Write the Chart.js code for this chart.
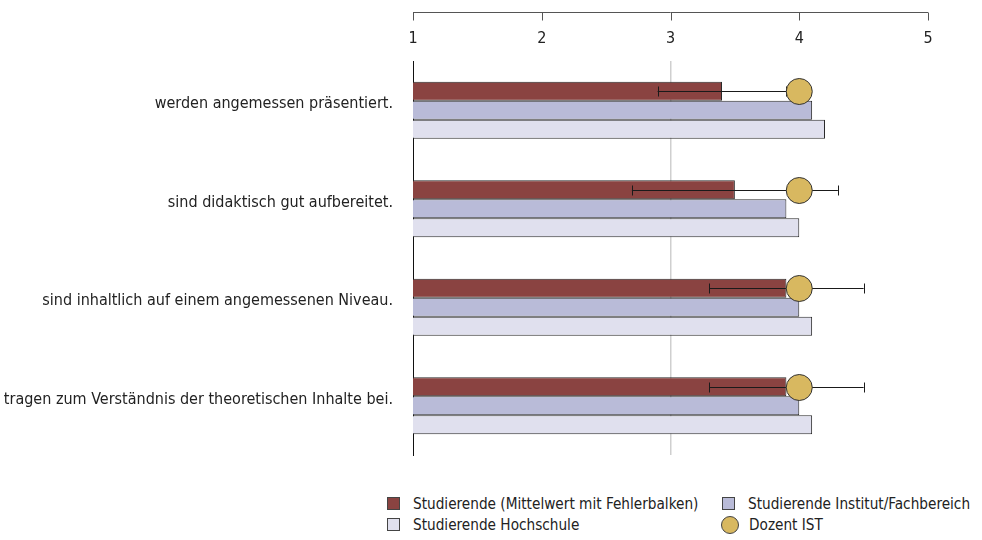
<!DOCTYPE html>
<html>
<head>
<meta charset="utf-8">
<script src="https://cdn.jsdelivr.net/npm/chart.js@4"></script>
<style>
  body { margin: 0; background: #fff; }
  #wrap { position: relative; width: 982px; height: 540px; }
  #chart { position: absolute; left: 0; top: 0; }
  .lg { position: absolute; font: 15.2px 'Liberation Sans Narrow', 'DejaVu Sans Condensed', sans-serif; color: #222; white-space: nowrap; line-height: 18px; }
  .sw { display: inline-block; width: 11px; height: 11px; border: 1px solid #444; vertical-align: -1px; margin-right: 13px; }
  .dot { display: inline-block; width: 16px; height: 16px; border: 1px solid #444; border-radius: 50%; vertical-align: -4px; margin-right: 10px; }
</style>
</head>
<body>
<div id="wrap">
  <canvas id="chart" width="982" height="470"></canvas>
  <div id="legend"></div>
</div>
<script>
// chart data
const categories = [
  'werden angemessen präsentiert.',
  'sind didaktisch gut aufbereitet.',
  'sind inhaltlich auf einem angemessenen Niveau.',
  'tragen zum Verständnis der theoretischen Inhalte bei.'
];
const seriesNames = [
  'Studierende (Mittelwert mit Fehlerbalken)',
  'Studierende Institut/Fachbereich',
  'Studierende Hochschule',
  'Dozent IST'
];
const studMean = [3.4, 3.5, 3.9, 3.9];
const studErr = [0.5, 0.8, 0.6, 0.6];
const institut = [4.1, 3.9, 4.0, 4.0];
const hochschule = [4.2, 4.0, 4.1, 4.1];
const dozent = [4.0, 4.0, 4.0, 4.0];
const xTicks = [1, 2, 3, 4, 5];
const colors = ['#8a4341', '#b9bbd8', '#e0e0ee', '#d8b860'];

const FONT = "'Liberation Sans Narrow', 'DejaVu Sans Condensed', sans-serif";

// axis line with ticks above the labels
const topAxis = {
  id: 'topAxis',
  afterDraw(chart) {
    const xs = chart.scales.x;
    const ctx = chart.ctx;
    const y = 12.5;
    ctx.save();
    ctx.strokeStyle = '#555';
    ctx.lineWidth = 1;
    ctx.beginPath();
    ctx.moveTo(xs.getPixelForValue(xTicks[0]), y);
    ctx.lineTo(xs.getPixelForValue(xTicks[xTicks.length - 1]), y);
    xTicks.forEach(v => {
      const px = Math.round(xs.getPixelForValue(v)) + 0.5;
      ctx.moveTo(px, y);
      ctx.lineTo(px, y + 8);
    });
    ctx.stroke();
    ctx.restore();
  }
};

// error bars + lecturer dot, placed on the first bar of each group
const errorDots = {
  id: 'errorDots',
  afterDatasetsDraw(chart) {
    const xs = chart.scales.x;
    const meta = chart.getDatasetMeta(0);
    const ctx = chart.ctx;
    ctx.save();
    meta.data.forEach((bar, i) => {
      const y = Math.round(bar.y) + 0.5;
      const lo = xs.getPixelForValue(studMean[i] - studErr[i]);
      const hi = xs.getPixelForValue(studMean[i] + studErr[i]);
      ctx.strokeStyle = '#1a1a1a';
      ctx.lineWidth = 1;
      ctx.beginPath();
      ctx.moveTo(lo, y); ctx.lineTo(hi, y);
      ctx.moveTo(Math.round(lo) + 0.5, y - 5); ctx.lineTo(Math.round(lo) + 0.5, y + 5);
      ctx.moveTo(Math.round(hi) + 0.5, y - 5); ctx.lineTo(Math.round(hi) + 0.5, y + 5);
      ctx.stroke();

      const dx = xs.getPixelForValue(dozent[i]);
      ctx.beginPath();
      ctx.arc(dx, y, 13, 0, Math.PI * 2);
      ctx.fillStyle = colors[3];
      ctx.fill();
      ctx.strokeStyle = '#333';
      ctx.stroke();
    });
    ctx.restore();
  }
};

const barStyle = { borderColor: '#2a2a2a', borderWidth: 1, categoryPercentage: 0.58, barPercentage: 1 };

new Chart(document.getElementById('chart'), {
  type: 'bar',
  data: {
    labels: categories,
    datasets: [
      Object.assign({ label: seriesNames[0], data: studMean, backgroundColor: colors[0] }, barStyle),
      Object.assign({ label: seriesNames[1], data: institut, backgroundColor: colors[1] }, barStyle),
      Object.assign({ label: seriesNames[2], data: hochschule, backgroundColor: colors[2] }, barStyle)
    ]
  },
  options: {
    indexAxis: 'y',
    responsive: false,
    animation: false,
    layout: { padding: { top: 0, right: 54, bottom: 15, left: 0 } },
    plugins: { legend: { display: false }, tooltip: { enabled: false } },
    scales: {
      x: {
        position: 'top',
        min: 1,
        max: 5,
        afterFit: s => { s.height = 61; },
        afterBuildTicks: s => { s.ticks = xTicks.map(v => ({ value: v })); },
        ticks: { padding: 13, color: '#222', font: { family: FONT, size: 16 } },
        grid: {
          drawTicks: false,
          lineWidth: 1.5,
          color: c => (c.tick && c.tick.value === 3 ? '#cfcfcf' : 'rgba(0,0,0,0)')
        },
        border: { display: false }
      },
      y: {
        afterFit: s => { s.width = 413; s.paddingTop = 0; s.paddingBottom = 0; },
        ticks: { padding: 20, labelOffset: -6, color: '#222', font: { family: FONT, size: 16 } },
        grid: { display: false, drawTicks: false },
        border: { display: true, color: '#111', width: 1 }
      }
    }
  },
  plugins: [topAxis, errorDots]
});

// legend in two columns like the original
const legend = document.getElementById('legend');
const legendPos = [[387, 495], [722, 495], [387, 516], [721, 516]];
seriesNames.forEach((name, i) => {
  const d = document.createElement('div');
  d.className = 'lg';
  d.style.left = legendPos[i][0] + 'px';
  d.style.top = legendPos[i][1] + 'px';
  const mark = document.createElement('span');
  mark.className = i === 3 ? 'dot' : 'sw';
  mark.style.background = colors[i];
  d.appendChild(mark);
  d.appendChild(document.createTextNode(name));
  legend.appendChild(d);
});
</script>
</body>
</html>
